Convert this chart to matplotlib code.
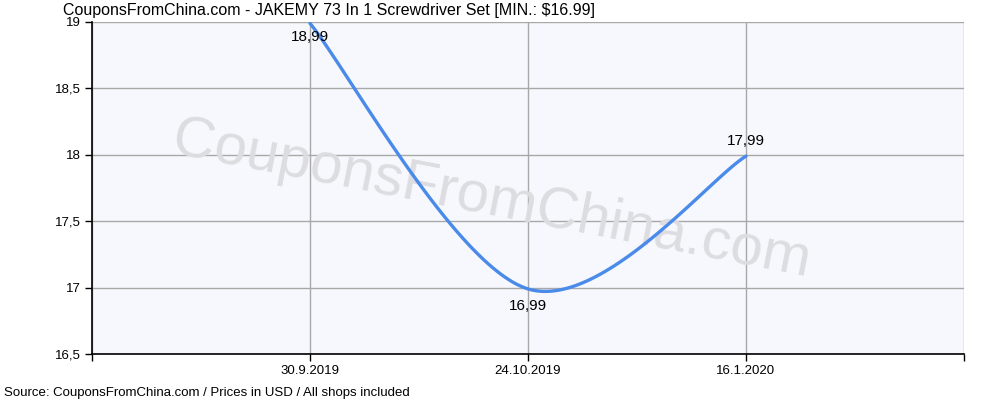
import matplotlib
matplotlib.use("Agg")
import matplotlib.pyplot as plt
import numpy as np

dates = ["30.9.2019", "24.10.2019", "16.1.2020"]
prices = [18.99, 16.99, 17.99]
price_labels = ["18,99", "16,99", "17,99"]
y_ticks = [16.5, 17, 17.5, 18, 18.5, 19]
y_tick_labels = ["16,5", "17", "17,5", "18", "18,5", "19"]

title = "CouponsFromChina.com - JAKEMY 73 In 1 Screwdriver Set [MIN.: $16.99]"
source = "Source: CouponsFromChina.com / Prices in USD / All shops included"

plt.rcParams['font.family'] = ['Liberation Sans', 'DejaVu Sans']


def cardinal_spline(xs, ys, tension=0.5, n=60):
    # GDI+ style DrawCurve: cubic bezier per segment
    pts = np.column_stack([xs, ys]).astype(float)
    out = []
    k = len(pts)
    for i in range(k - 1):
        p0 = pts[max(i - 1, 0)]
        p1 = pts[i]
        p2 = pts[i + 1]
        p3 = pts[min(i + 2, k - 1)]
        c1 = p1 + tension / 3 * (p2 - p0)
        c2 = p2 - tension / 3 * (p3 - p1)
        t = np.linspace(0, 1, n)[:, None]
        seg = ((1 - t) ** 3) * p1 + 3 * ((1 - t) ** 2) * t * c1 + 3 * (1 - t) * t ** 2 * c2 + t ** 3 * p2
        out.append(seg)
    return np.vstack(out)


fig = plt.figure(figsize=(10, 4), dpi=100)
ax = fig.add_axes([0.092, 0.115, 0.872, 0.83])
ax.set_facecolor("#f7f8fd")

x = np.arange(1, len(dates) + 1)
curve = cardinal_spline(x, prices)
ax.plot(curve[:, 0], curve[:, 1], color="#4a8ae8", linewidth=2.4, zorder=3,
        solid_capstyle="round")

for xi, yi, lab, off in zip(x, prices, price_labels, [-10, -12, 11]):
    ax.annotate(lab, (xi, yi), xytext=(0, off), textcoords="offset points",
                ha="center", va="center", fontsize=11, color="black", zorder=4)

ax.set_xlim(0, len(dates) + 1)
ax.set_ylim(16.5, 19)
ax.set_xticks(np.arange(0, len(dates) + 2))
ax.set_xticklabels([""] + dates + [""])
ax.set_yticks(y_ticks)
ax.set_yticklabels(y_tick_labels)
ax.tick_params(axis="both", direction="out", length=5, width=1, labelsize=9.5,
               color="black", pad=3)
ax.grid(True, color="#a8a8a8", linewidth=1)
ax.set_axisbelow(True)

for side in ["top", "right"]:
    ax.spines[side].set_visible(False)
for side in ["left", "bottom"]:
    ax.spines[side].set_color("black")
    ax.spines[side].set_linewidth(1.2)

# watermark
ax.text(0.458, 0.462, "CouponsFromChina.com", transform=ax.transAxes,
        fontsize=42, color="#dddde1", rotation=-11, ha="center", va="center",
        rotation_mode="anchor", zorder=1)

fig.text(0.063, 0.975, title, fontsize=11.5, ha="left", va="center")
fig.text(0.004, 0.018, source, fontsize=9.5, ha="left", va="center")

fig.savefig("out.png", dpi=100)
